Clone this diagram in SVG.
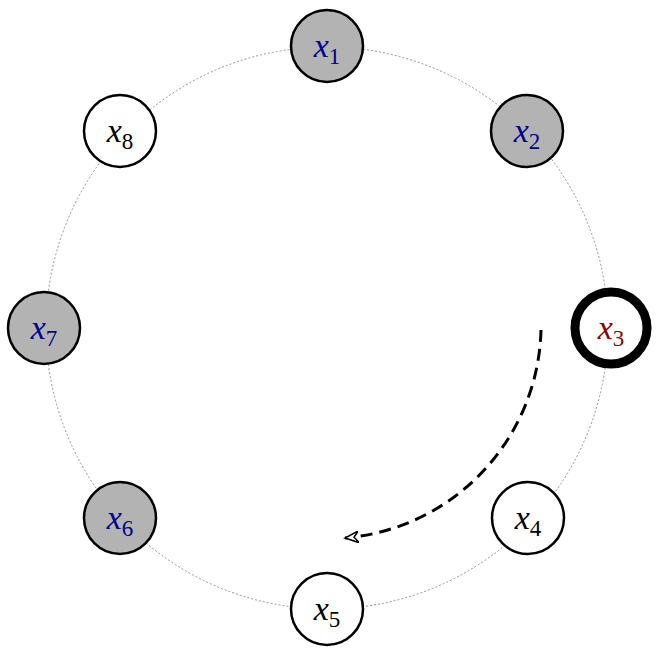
<svg xmlns="http://www.w3.org/2000/svg" width="661" height="658" viewBox="0 0 661 658">
<style>
.n{stroke:#000;stroke-width:2.5}
.g{fill:#b3b3b3}
.w{fill:#fff}
.t{font-family:"Liberation Serif",serif;font-size:34px;text-anchor:middle}
.v{font-style:italic}
.s{font-size:23px}
.b{fill:#00008b}
.k{fill:#000}
.r{fill:#8b0000}
</style>
<defs>
<marker id="a" markerWidth="16" markerHeight="12" refX="14" refY="6" orient="auto" markerUnits="userSpaceOnUse">
<path d="M14,6 L0,0 L5,6 L0,12 Z" fill="#fff" stroke="#000" stroke-width="1.5"/>
</marker>
</defs>
<circle cx="327" cy="328" r="281" fill="none" stroke="#777" stroke-width="0.8" stroke-dasharray="2,2"/>
<g id="connectors">
<path d="M541,330 A214,214 0 0 1 345,538" fill="none" stroke="#000" stroke-width="3" stroke-dasharray="12,7" marker-end="url(#a)"/>
</g>
<g id="x1"><circle class="n g" cx="327" cy="46" r="36"/><text class="t b" x="327" y="57"><tspan class="v">x</tspan><tspan class="s" dy="7">1</tspan></text></g>
<g id="x2"><circle class="n g" cx="527" cy="131" r="36"/><text class="t b" x="527" y="142"><tspan class="v">x</tspan><tspan class="s" dy="7">2</tspan></text></g>
<g id="x3"><circle cx="611" cy="328" r="36" fill="#fff" stroke="#000" stroke-width="9"/><text class="t r" x="611" y="339"><tspan class="v">x</tspan><tspan class="s" dy="7">3</tspan></text></g>
<g id="x4"><circle class="n w" cx="528" cy="518" r="36"/><text class="t k" x="528" y="529"><tspan class="v">x</tspan><tspan class="s" dy="7">4</tspan></text></g>
<g id="x5"><circle class="n w" cx="327" cy="609" r="36"/><text class="t k" x="327" y="620"><tspan class="v">x</tspan><tspan class="s" dy="7">5</tspan></text></g>
<g id="x6"><circle class="n g" cx="120" cy="518" r="36"/><text class="t b" x="120" y="529"><tspan class="v">x</tspan><tspan class="s" dy="7">6</tspan></text></g>
<g id="x7"><circle class="n g" cx="44" cy="328" r="36"/><text class="t b" x="44" y="339"><tspan class="v">x</tspan><tspan class="s" dy="7">7</tspan></text></g>
<g id="x8"><circle class="n w" cx="120" cy="131" r="36"/><text class="t k" x="120" y="142"><tspan class="v">x</tspan><tspan class="s" dy="7">8</tspan></text></g>
</svg>
